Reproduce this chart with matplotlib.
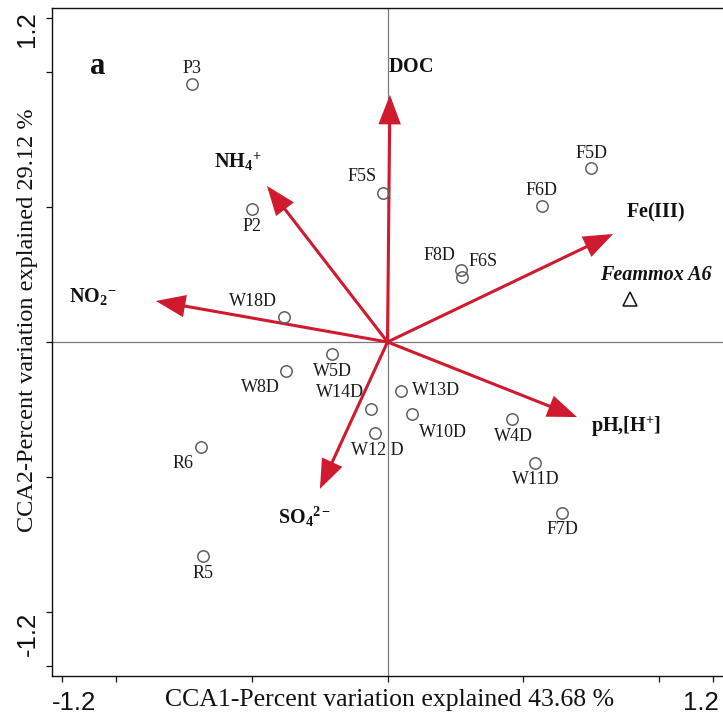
import matplotlib
matplotlib.use("Agg")
import matplotlib.pyplot as plt
from matplotlib.transforms import ScaledTranslation

# ---------------- data ----------------
sample_names = ["P3", "P2", "F5S", "W18D", "F5D", "F6D", "F8D", "F6S",
                "W5D", "W8D", "W14D", "W12 D", "W13D", "W10D", "R6", "R5",
                "W4D", "W11D", "F7D"]
sample_cca1 = [-0.720, -0.499, -0.017, -0.381, 0.750, 0.569, 0.271, 0.274,
               -0.204, -0.374, -0.061, -0.046, 0.050, 0.090, -0.687, -0.680,
               0.459, 0.543, 0.643]
sample_cca2 = [0.956, 0.493, 0.552, 0.093, 0.644, 0.504, 0.267, 0.241,
               -0.044, -0.107, -0.248, -0.337, -0.181, -0.267, -0.389, -0.793,
               -0.285, -0.448, -0.633]

species_name = "Feammox A6"
species_cca1 = 0.893
species_cca2 = 0.159

env_names = [r"$\mathbf{DOC}$", r"$\mathbf{NH_4{}^{+}}$", r"$\mathbf{NO_2{}^{-}}$",
             r"$\mathbf{Fe(III)}$", r"$\mathbf{pH{,}[H^{+}]}$", r"$\mathbf{SO_4{}^{2-}}$"]
env_cca1 = [0.009, -0.444, -0.853, 0.831, 0.698, -0.249]
env_cca2 = [0.915, 0.578, 0.152, 0.400, -0.278, -0.544]

x_label = "CCA1-Percent variation explained 43.68 %"
y_label = "CCA2-Percent variation explained 29.12 %"
panel_label = "a"

# ---------------- layout (label placement, pixels: dx right, dy down) ----------------
sample_label_offsets = [(0, -15), (0, 18), (-21, -16), (-31, -15), (0, -15), (0, -15),
                        (-22, -14), (21, -15), (0, 18), (-26, 17), (-31, -16), (2, 18),
                        (35, 0), (31, 18), (-18, 16), (0, 17), (1, 18), (1, 17), (0, 17)]
env_label_pos = [(0.085, 1.015), (-0.551, 0.667), (-1.085, 0.167),
                 (0.989, 0.478), (0.879, -0.315), (-0.307, -0.648)]
species_label_pos = (0.987, 0.248)

# ---------------- style ----------------
plt.rcParams["mathtext.fontset"] = "custom"
plt.rcParams["mathtext.rm"] = "Liberation Serif"
plt.rcParams["mathtext.bf"] = "Liberation Serif:bold"
plt.rcParams["mathtext.it"] = "Liberation Serif:italic"
SERIF = "Liberation Serif"
SANS = "Liberation Sans"
ARROW_COLOR = "#CF1A2F"

W, H = 723, 716
DPI = 100
fig = plt.figure(figsize=(W / DPI, H / DPI), dpi=DPI)
ax = fig.add_axes([52 / W, (H - 676) / H, (723 - 52) / W, (676 - 8) / H])

ax.set_xlim(-1.236, 1.236)
ax.set_ylim(-1.237, 1.237)

ax.axhline(0, color="#7a7a7a", lw=0.9, zorder=1)
ax.axvline(0, color="#7a7a7a", lw=0.9, zorder=1)

# arrows
for name, ex, ey in zip(env_names, env_cca1, env_cca2):
    ax.annotate("", xy=(ex, ey), xytext=(0, 0),
                arrowprops=dict(arrowstyle="-|>,head_length=1.7,head_width=0.65",
                                mutation_scale=10, color=ARROW_COLOR, lw=2.2,
                                shrinkA=0, shrinkB=0, joinstyle="miter",
                                capstyle="butt"),
                zorder=3)
for name, (lx, ly) in zip(env_names, env_label_pos):
    ax.text(lx, ly, name, fontsize=14.5, ha="center", va="center", color="#111111",
            family=SERIF, zorder=4)

# samples
ax.plot(sample_cca1, sample_cca2, linestyle="none", marker="o", markersize=8.2,
        markerfacecolor="none", markeredgecolor="#606060", markeredgewidth=1.1, zorder=5)
for name, sx, sy, (dx, dy) in zip(sample_names, sample_cca1, sample_cca2,
                                   sample_label_offsets):
    ax.annotate(name, xy=(sx, sy), xytext=(dx * 72 / DPI, -dy * 72 / DPI),
                textcoords="offset points", ha="center", va="center",
                fontsize=13, family=SERIF, color="#1a1a1a", zorder=6)

# species
ax.plot([species_cca1], [species_cca2], linestyle="none", marker="^", markersize=10,
        markerfacecolor="none", markeredgecolor="#111111", markeredgewidth=1.1, zorder=5)
ax.text(species_label_pos[0], species_label_pos[1], species_name, fontsize=14.5,
        ha="center", va="center", family=SERIF, fontweight="bold", fontstyle="italic",
        color="#111111", zorder=6)

# panel label
ax.text(-1.067, 1.019, panel_label, fontsize=22, fontweight="bold", family=SERIF,
        ha="center", va="center", color="#111111")

# spines / ticks
for s in ["left", "bottom", "top"]:
    ax.spines[s].set_color("#111111")
    ax.spines[s].set_linewidth(1.0)
ax.spines["right"].set_visible(False)

tick_vals = [-1.2, -1.0, -0.5, 0, 0.5, 1.0, 1.2]
tick_labels = ["-1.2", "", "", "", "", "", "1.2"]
ax.set_xticks(tick_vals)
ax.set_xticklabels(tick_labels)
ax.set_yticks(tick_vals)
ax.set_yticklabels(tick_labels, rotation=90)
ax.tick_params(direction="out", length=4, width=0.9, colors="#111111",
               labelsize=18.5, labelcolor="#111111")
ax.tick_params(axis="x", pad=7)
ax.tick_params(axis="y", pad=5)
for lab in ax.get_xticklabels() + ax.get_yticklabels():
    lab.set_family(SANS)

xt = ax.get_xticklabels()
xt[0].set_ha("left")
xt[0].set_transform(xt[0].get_transform() + ScaledTranslation(-10 / DPI, 0, fig.dpi_scale_trans))
xt[-1].set_ha("right")
xt[-1].set_transform(xt[-1].get_transform() + ScaledTranslation(6 / DPI, 0, fig.dpi_scale_trans))
yt = ax.get_yticklabels()
yt[0].set_va("bottom")
yt[0].set_transform(yt[0].get_transform() + ScaledTranslation(-12 / DPI, 10 / DPI, fig.dpi_scale_trans))
yt[-1].set_va("top")
yt[-1].set_transform(yt[-1].get_transform() + ScaledTranslation(-12 / DPI, 7 / DPI, fig.dpi_scale_trans))
for lab in yt:
    lab.set_ha("center")

ax.set_xlabel(x_label, fontsize=18.5, family=SERIF, color="#111111", va="center")
ax.xaxis.set_label_coords((390 - 52) / 671, (676 - 700) / 668)
ax.set_ylabel(y_label, fontsize=17.5, family=SERIF, color="#111111", va="center")
ax.yaxis.set_label_coords((28 - 52) / 671, (676 - 320) / 668)

fig.savefig("out.png", dpi=DPI)
